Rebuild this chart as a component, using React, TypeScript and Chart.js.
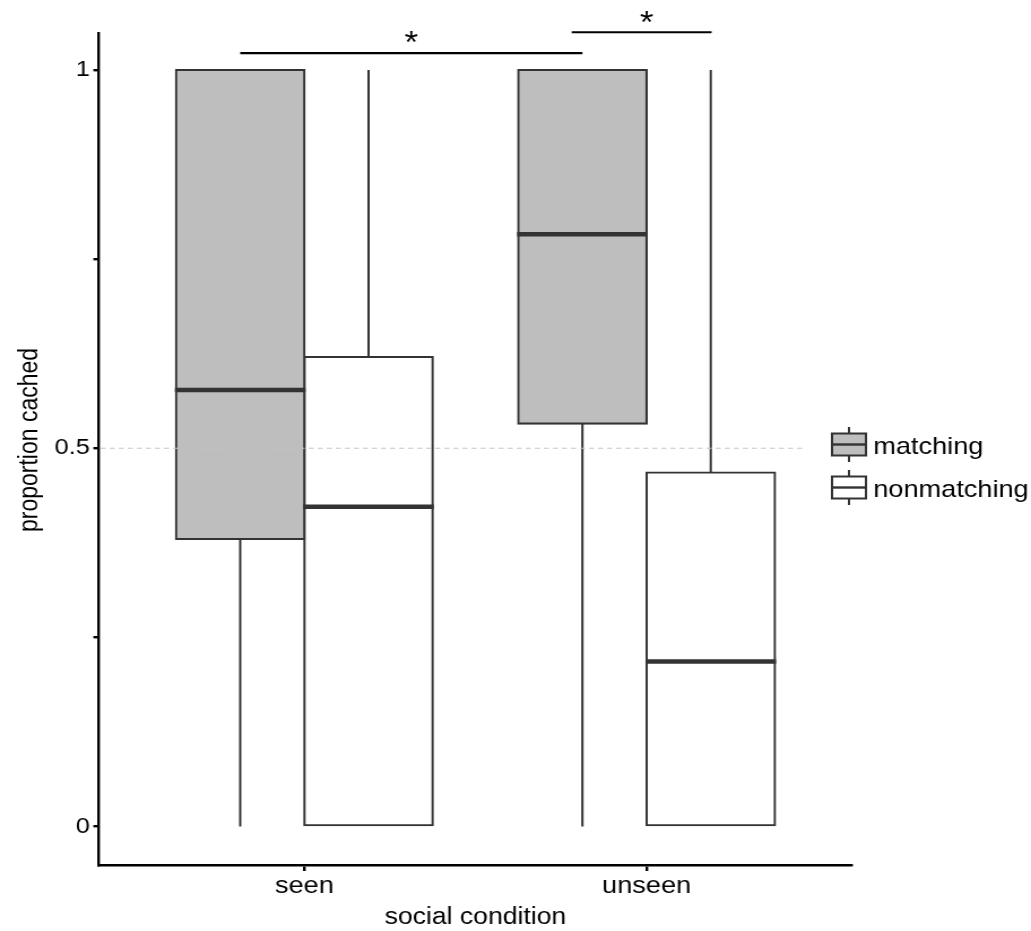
import React, { useEffect, useRef } from 'react';
import { Chart, registerables } from 'chart.js';

Chart.register(...registerables);

// ---------- data ----------
const categories = ['seen', 'unseen'];
const categoryPositions = [1, 2];
const seriesNames = ['matching', 'nonmatching'];
const seriesFill = ['#bebebe', '#ffffff'];

const matchingMin = [0, 0];
const matchingQ1 = [0.38, 0.5325];
const matchingMedian = [0.577, 0.783];
const matchingQ3 = [1, 1];
const matchingMax = [1, 1];

const nonmatchingMin = [0, 0];
const nonmatchingQ1 = [0, 0];
const nonmatchingMedian = [0.4227, 0.218];
const nonmatchingQ3 = [0.6206, 0.468];
const nonmatchingMax = [1, 1];

const yTickValues = [0, 0.25, 0.5, 0.75, 1];
const yTickLabels = ['0', '', '0.5', '', '1'];

const xTitle = 'social condition';
const yTitle = 'proportion cached';

const referenceLineY = 0.5;
const referenceLineEndX = 2.46;

// significance brackets
const sigStartX = [0.8125, 1.781];
const sigEndX = [1.8125, 2.19];
const sigLineY = [1.0225, 1.05];
const sigLabelX = [1.3125, 2.0];
const sigLabelY = [1.043, 1.069];
const sigLabels = ['*', '*'];

// ---------- layout / style ----------
const DISPLAY_W = 1031;
const DISPLAY_H = 931;
const STRETCH = 1.1305;
const CANVAS_W = Math.round(DISPLAY_W / STRETCH);
const CANVAS_H = DISPLAY_H;
const FONT = '"Liberation Sans", Arial, Helvetica, sans-serif';
const INK = '#333333';

const stats = [
  { min: matchingMin, q1: matchingQ1, median: matchingMedian, q3: matchingQ3, max: matchingMax },
  { min: nonmatchingMin, q1: nonmatchingQ1, median: nonmatchingMedian, q3: nonmatchingQ3, max: nonmatchingMax },
];

const boxPlugin = {
  id: 'boxExtras',
  beforeDatasetsDraw(chart: any) {
    const ctx = chart.ctx;
    const ys = chart.scales.y;
    chart.data.datasets.forEach((_ds: any, di: number) => {
      const meta = chart.getDatasetMeta(di);
      const st = stats[di];
      meta.data.forEach((bar: any, j: number) => {
        const x = bar.x;
        ctx.save();
        ctx.strokeStyle = INK;
        ctx.lineWidth = 2;
        ctx.beginPath();
        ctx.moveTo(x, ys.getPixelForValue(st.q3[j]));
        ctx.lineTo(x, ys.getPixelForValue(st.max[j]));
        ctx.moveTo(x, ys.getPixelForValue(st.q1[j]));
        ctx.lineTo(x, ys.getPixelForValue(st.min[j]));
        ctx.stroke();
        ctx.restore();
      });
    });
  },
  afterDatasetsDraw(chart: any) {
    const ctx = chart.ctx;
    const ys = chart.scales.y;
    const xs = chart.scales.x;
    chart.data.datasets.forEach((_ds: any, di: number) => {
      const meta = chart.getDatasetMeta(di);
      const st = stats[di];
      meta.data.forEach((bar: any, j: number) => {
        const half = bar.width / 2;
        const y = ys.getPixelForValue(st.median[j]);
        ctx.save();
        ctx.strokeStyle = INK;
        ctx.lineWidth = 4.5;
        ctx.beginPath();
        ctx.moveTo(bar.x - half - 1, y);
        ctx.lineTo(bar.x + half + 1, y);
        ctx.stroke();
        ctx.restore();
      });
    });
    // dashed reference line
    const ry = ys.getPixelForValue(referenceLineY);
    ctx.save();
    ctx.strokeStyle = '#c4c4c4';
    ctx.lineWidth = 1;
    ctx.setLineDash([4.4, 3.6]);
    ctx.beginPath();
    ctx.moveTo(chart.chartArea.left + 1.5, ry);
    ctx.lineTo(xs.getPixelForValue(referenceLineEndX), ry);
    ctx.stroke();
    ctx.restore();
  },
  afterDraw(chart: any) {
    const ctx = chart.ctx;
    const ys = chart.scales.y;
    const xs = chart.scales.x;
    const area = chart.chartArea;

    // y axis title (centred slightly above the panel centre, as in the original)
    ctx.save();
    ctx.fillStyle = '#000';
    ctx.font = `23px ${FONT}`;
    ctx.textAlign = 'center';
    ctx.textBaseline = 'middle';
    ctx.translate(26.3, (area.top + area.bottom) / 2 - 9);
    ctx.rotate(-Math.PI / 2);
    ctx.fillText(yTitle, 0, 0);
    ctx.restore();

    // significance brackets
    ctx.save();
    ctx.strokeStyle = '#000';
    ctx.fillStyle = '#000';
    ctx.lineWidth = 2.2;
    const starSize = 31;
    ctx.font = `${starSize}px ${FONT}`;
    ctx.textAlign = 'center';
    ctx.textBaseline = 'middle';
    sigLabels.forEach((lab, i) => {
      const y = ys.getPixelForValue(sigLineY[i]);
      ctx.beginPath();
      ctx.moveTo(xs.getPixelForValue(sigStartX[i]), y);
      ctx.lineTo(xs.getPixelForValue(sigEndX[i]), y);
      ctx.stroke();
      ctx.fillText(lab, xs.getPixelForValue(sigLabelX[i]), ys.getPixelForValue(sigLabelY[i]) + starSize * 0.22);
    });
    ctx.restore();

    // legend (boxplot keys)
    const keyLeft = 736;
    const keyW = 30;
    const keyH = 22;
    const whisk = 6.5;
    const firstY = 444.5;
    const gap = 43;
    ctx.save();
    chart.data.datasets.forEach((ds: any, di: number) => {
      const cy = firstY + di * gap;
      ctx.strokeStyle = INK;
      ctx.lineWidth = 2;
      ctx.beginPath();
      ctx.moveTo(keyLeft + keyW / 2, cy - keyH / 2 - whisk);
      ctx.lineTo(keyLeft + keyW / 2, cy + keyH / 2 + whisk);
      ctx.stroke();
      ctx.fillStyle = ds.backgroundColor;
      ctx.fillRect(keyLeft, cy - keyH / 2, keyW, keyH);
      ctx.strokeRect(keyLeft, cy - keyH / 2, keyW, keyH);
      ctx.lineWidth = 2.4;
      ctx.beginPath();
      ctx.moveTo(keyLeft, cy);
      ctx.lineTo(keyLeft + keyW, cy);
      ctx.stroke();
      ctx.fillStyle = '#000';
      ctx.font = `24px ${FONT}`;
      ctx.textAlign = 'left';
      ctx.textBaseline = 'middle';
      ctx.fillText(ds.label, keyLeft + keyW + 6.5, cy + 2.5);
    });
    ctx.restore();
  },
};

export default function App() {
  const canvasRef = useRef<HTMLCanvasElement | null>(null);

  useEffect(() => {
    if (!canvasRef.current) return;
    Chart.defaults.font.family = FONT;
    Chart.defaults.color = '#000';

    const datasets = seriesNames.map((name, si) => ({
      label: name,
      data: categoryPositions.map((x, j) => ({ x, y: [stats[si].q1[j], stats[si].q3[j]] })),
      backgroundColor: seriesFill[si],
      borderColor: INK,
      borderWidth: 2.1,
      borderSkipped: false,
      inflateAmount: 1.05,
      categoryPercentage: 0.75,
      barPercentage: 1,
    }));

    const chart = new Chart(canvasRef.current, {
      type: 'bar',
      data: { datasets: datasets as any },
      plugins: [boxPlugin],
      options: {
        animation: false,
        responsive: false,
        devicePixelRatio: 1,
        layout: { padding: { top: 33, right: CANVAS_W - 753.6, bottom: 0, left: 0 } },
        plugins: {
          legend: { display: false },
          tooltip: { enabled: false },
        },
        scales: {
          x: {
            type: 'linear',
            min: 0.4,
            max: 2.6,
            offset: false,
            afterBuildTicks: (scale: any) => {
              scale.ticks = categoryPositions.map((v) => ({ value: v }));
            },
            afterFit: (scale: any) => {
              scale.height = 66;
            },
            ticks: {
              font: { size: 24 },
              color: '#000',
              padding: 1,
              maxRotation: 0,
              autoSkip: false,
              callback: (v: any) => {
                const i = categoryPositions.indexOf(Number(v));
                return i >= 0 ? categories[i] : '';
              },
            },
            grid: {
              display: true,
              drawOnChartArea: false,
              drawTicks: true,
              tickLength: 6,
              lineWidth: 2.4,
              color: '#000',
              offset: false,
            },
            border: { display: true, color: '#000', width: 2.6 },
            title: {
              display: true,
              text: xTitle,
              font: { size: 23.5 },
              color: '#000',
              padding: { top: 0, bottom: -1 },
            },
          },
          y: {
            type: 'linear',
            min: -0.051,
            max: 1.049,
            afterBuildTicks: (scale: any) => {
              scale.ticks = yTickValues.map((v) => ({ value: v }));
            },
            afterFit: (scale: any) => {
              scale.width = 87.6;
            },
            ticks: {
              font: { size: 22.5 },
              color: '#000',
              padding: 3,
              autoSkip: false,
              callback: (v: any) => {
                const i = yTickValues.indexOf(Number(v));
                return i >= 0 ? yTickLabels[i] : '';
              },
            },
            grid: {
              display: true,
              drawOnChartArea: false,
              drawTicks: true,
              tickLength: 5,
              lineWidth: 2.4,
              color: '#000',
            },
            border: { display: true, color: '#000', width: 2.4 },
            title: { display: false },
          },
        },
      } as any,
    });
    return () => chart.destroy();
  }, []);

  return (
    <div style={{ position: 'absolute', left: 0, top: 0, width: DISPLAY_W, height: DISPLAY_H, background: '#fff' }}>
      <canvas
        ref={canvasRef}
        width={CANVAS_W}
        height={CANVAS_H}
        style={{ width: `${DISPLAY_W}px`, height: `${DISPLAY_H}px`, display: 'block' }}
      />
    </div>
  );
}
